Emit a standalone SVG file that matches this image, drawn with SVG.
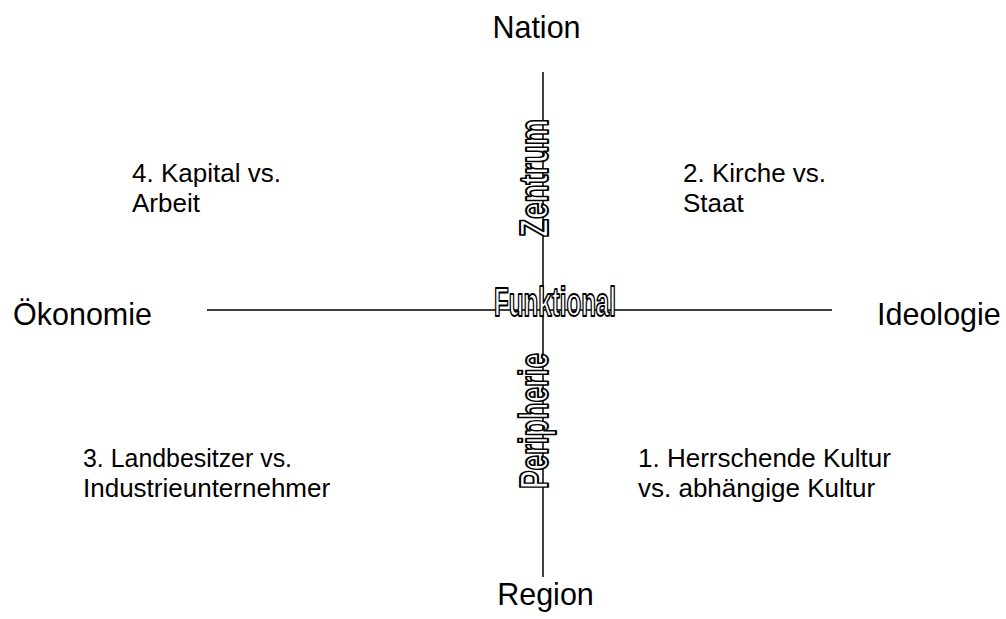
<svg xmlns="http://www.w3.org/2000/svg" width="1006" height="619" viewBox="0 0 1006 619">
<style>
.lbl{font-family:"Liberation Sans",Arial,sans-serif;font-size:26px;fill:#000}
.big{font-size:30.5px}
.out{font-family:"Liberation Sans Narrow","Liberation Sans",Arial,sans-serif;font-weight:bold;font-size:40px;fill:#fff;stroke:#000;stroke-width:2;stroke-linejoin:round}
.ax{stroke:#000;stroke-width:1.5;fill:none}
</style>
<rect width="1006" height="619" fill="#fff"/>
<g id="connectors">
<line class="ax" x1="543" y1="72" x2="543" y2="577"/>
<line class="ax" x1="207" y1="310" x2="832" y2="310"/>
</g>
<g id="nation"><text class="lbl big" x="536.5" y="38" text-anchor="middle">Nation</text></g>
<g id="region"><text class="lbl big" x="545.5" y="605" text-anchor="middle">Region</text></g>
<g id="oekonomie"><text class="lbl big" x="13" y="325">Ökonomie</text></g>
<g id="ideologie"><text class="lbl big" x="877" y="325">Ideologie</text></g>
<g id="q4"><text class="lbl" x="132" y="182">4. Kapital vs.</text><text class="lbl" x="132" y="212">Arbeit</text></g>
<g id="q2"><text class="lbl" x="683" y="182">2. Kirche vs.</text><text class="lbl" x="683" y="212">Staat</text></g>
<g id="q3"><text class="lbl" x="83" y="467" textLength="209" lengthAdjust="spacingAndGlyphs">3. Landbesitzer vs.</text><text class="lbl" x="83" y="497">Industrieunternehmer</text></g>
<g id="q1"><text class="lbl" x="638" y="467">1. Herrschende Kultur</text><text class="lbl" x="638" y="497">vs. abhängige Kultur</text></g>
<g id="zentrum"><text class="out" transform="translate(548,178) rotate(-90)" x="0" y="0" text-anchor="middle" textLength="118" lengthAdjust="spacingAndGlyphs">Zentrum</text></g>
<g id="funktional"><text class="out" x="555" y="316" text-anchor="middle" textLength="122" lengthAdjust="spacingAndGlyphs">Funktional</text></g>
<g id="peripherie"><text class="out" transform="translate(548,421) rotate(-90)" x="0" y="0" text-anchor="middle" textLength="136" lengthAdjust="spacingAndGlyphs">Peripherie</text></g>
</svg>
